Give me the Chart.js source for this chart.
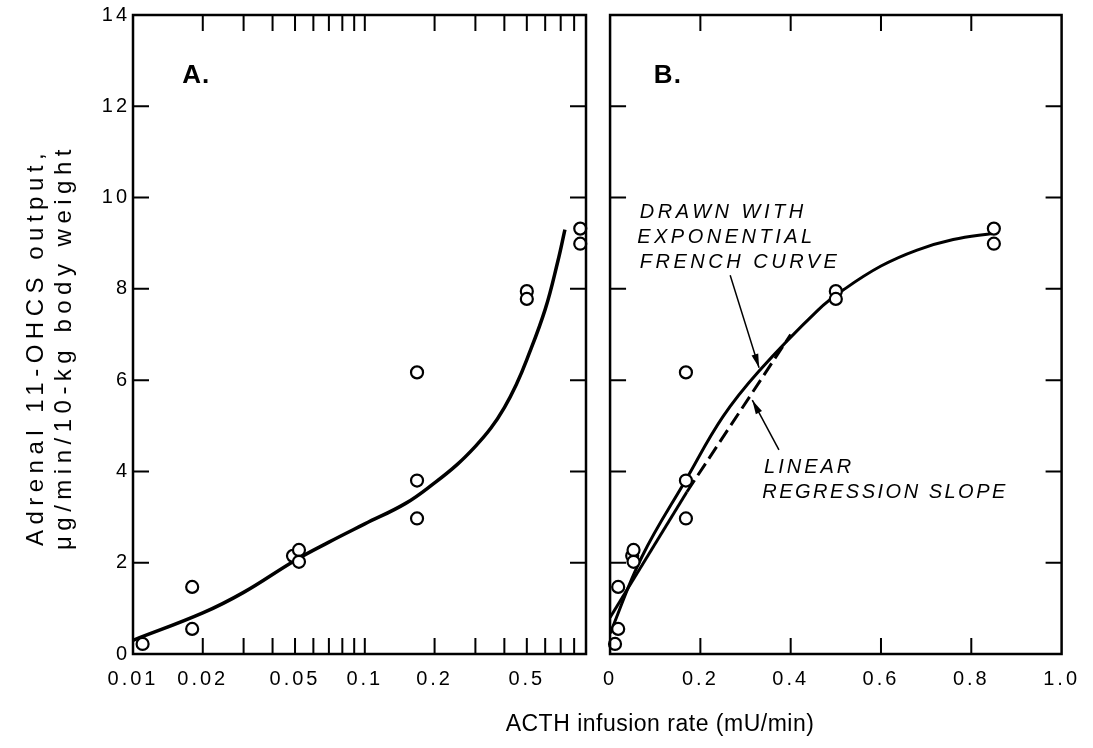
<!DOCTYPE html>
<html>
<head>
<meta charset="utf-8">
<script src="https://cdn.jsdelivr.net/npm/chart.js@4.4.1/dist/chart.umd.min.js"></script>
<style>
  html, body { margin: 0; padding: 0; background: #fff; }
  #wrap { position: relative; width: 1093px; height: 748px; overflow: hidden;
          font-family: "Liberation Sans", Arial, sans-serif; color: #000; }
  #panelA { position: absolute; left: 0; top: 0; }
  #panelB { position: absolute; left: 590px; top: 0; }
  .ytitle { position: absolute; left: 49px; top: 347px; transform: translate(-50%, -50%) rotate(-90deg);
            white-space: nowrap; text-align: center; font-size: 24px; line-height: 28px; letter-spacing: 5.5px; }
  .xtitle { position: absolute; left: 660px; top: 712px; transform: translateX(-50%);
            white-space: nowrap; font-size: 23px; line-height: 23px; letter-spacing: 0.5px; }
</style>
</head>
<body>
<div id="wrap">
  <canvas id="panelA" width="600" height="748"></canvas>
  <canvas id="panelB" width="503" height="748"></canvas>
  <div class="ytitle">Adrenal 11-OHCS output,<br>μg/min/10-kg body weight</div>
  <div class="xtitle">ACTH infusion rate (mU/min)</div>
</div>
<script>
// observed values (same animals in both panels)
const infusionRate = [0.011, 0.018, 0.018, 0.049, 0.052, 0.052, 0.168, 0.168, 0.168, 0.5, 0.5, 0.85, 0.85];
const hormoneOutput = [0.22, 1.47, 0.55, 2.15, 2.28, 2.02, 6.17, 3.8, 2.97, 7.95, 7.78, 9.32, 8.99];

// panel A: hand-drawn curve on the log axis
const curveARate = [0.01, 0.02, 0.03, 0.05, 0.07, 0.1, 0.15, 0.2, 0.25, 0.3, 0.35, 0.4, 0.45, 0.5, 0.6, 0.68, 0.73];
const curveAOutput = [0.3, 0.9, 1.35, 2.05, 2.45, 2.85, 3.3, 3.75, 4.15, 4.55, 4.95, 5.4, 5.9, 6.45, 7.55, 8.6, 9.3];

// panel B: exponential french curve and the linear regression line
const curveBRate = [0, 0.07, 0.17, 0.25, 0.33, 0.46, 0.52, 0.6, 0.68, 0.76, 0.85];
const curveBOutput = [0.45, 2.12, 3.85, 5.2, 6.2, 7.53, 8.0, 8.5, 8.85, 9.08, 9.22];
const regressionRate = [0, 0.17, 0.4];
const regressionOutput = [0.8, 3.55, 7.0];

// axis ticks
const logTicks = [0.01, 0.02, 0.03, 0.04, 0.05, 0.06, 0.07, 0.08, 0.09, 0.1, 0.2, 0.3, 0.4, 0.5, 0.6, 0.7, 0.8, 0.9];
const logLabels = [0.01, 0.02, 0.05, 0.1, 0.2, 0.5];
const linTicks = [0, 0.2, 0.4, 0.6, 0.8, 1];
const yTicks = [0, 2, 4, 6, 8, 10, 12, 14];

const pts = (xs, ys) => xs.map((x, i) => ({ x: x, y: ys[i] }));

const TICK_FONT = { family: '"Liberation Sans", Arial, sans-serif', size: 20 };

// wide tracking on the tick labels, like the original typesetting
const spacing = {
    id: 'spacing',
    beforeUpdate(chart) { chart.ctx.letterSpacing = '3px'; },
    beforeDraw(chart) { chart.ctx.letterSpacing = '3px'; }
};

// box round the plot with inward tick marks on all four sides
const frameTicks = {
    id: 'frameTicks',
    afterDatasetsDraw(chart) {
        const { ctx, chartArea: a, scales } = chart;
        const len = 16;
        ctx.save();
        ctx.strokeStyle = '#000';
        ctx.lineWidth = 2;
        ctx.beginPath();
        scales.x.ticks.forEach(t => {
            const px = scales.x.getPixelForValue(t.value);
            if (px <= a.left + 1 || px >= a.right - 1) return;
            ctx.moveTo(px, a.bottom); ctx.lineTo(px, a.bottom - len);
            ctx.moveTo(px, a.top); ctx.lineTo(px, a.top + len);
        });
        scales.y.ticks.forEach(t => {
            const py = scales.y.getPixelForValue(t.value);
            if (py <= a.top + 1 || py >= a.bottom - 1) return;
            ctx.moveTo(a.left, py); ctx.lineTo(a.left + len, py);
            ctx.moveTo(a.right, py); ctx.lineTo(a.right - len, py);
        });
        ctx.stroke();
        ctx.lineWidth = 2.5;
        ctx.strokeRect(a.left, a.top, a.right - a.left, a.bottom - a.top);
        ctx.restore();
    }
};

// text notes and arrows, placed in data units
function makeNotes(labels, arrows) {
    return {
        id: 'notes',
        afterDatasetsDraw(chart) {
            const { ctx, scales: { x, y } } = chart;
            ctx.save();
            ctx.fillStyle = '#000';
            ctx.strokeStyle = '#000';
            ctx.textAlign = 'left';
            ctx.textBaseline = 'alphabetic';
            labels.forEach(n => {
                ctx.font = n.font;
                ctx.letterSpacing = n.spacing;
                ctx.fillText(n.text, x.getPixelForValue(n.x), y.getPixelForValue(n.y));
            });
            arrows.forEach(ar => {
                const x0 = x.getPixelForValue(ar.from[0]), y0 = y.getPixelForValue(ar.from[1]);
                const x1 = x.getPixelForValue(ar.to[0]), y1 = y.getPixelForValue(ar.to[1]);
                const ang = Math.atan2(y1 - y0, x1 - x0);
                const L = 14, W = 3.5;
                ctx.lineWidth = 1.5;
                ctx.beginPath(); ctx.moveTo(x0, y0); ctx.lineTo(x1, y1); ctx.stroke();
                ctx.beginPath();
                ctx.moveTo(x1, y1);
                ctx.lineTo(x1 - L * Math.cos(ang) + W * Math.sin(ang), y1 - L * Math.sin(ang) - W * Math.cos(ang));
                ctx.lineTo(x1 - L * Math.cos(ang) - W * Math.sin(ang), y1 - L * Math.sin(ang) + W * Math.cos(ang));
                ctx.closePath();
                ctx.fill();
            });
            ctx.restore();
        }
    };
}

const pointStyle = {
    showLine: false, pointRadius: 6, pointBorderWidth: 2.2,
    pointBackgroundColor: '#fff', pointBorderColor: '#000', clip: false
};

function yScale(showLabels, width) {
    return {
        min: 0, max: 14,
        afterBuildTicks: s => { s.ticks = yTicks.map(v => ({ value: v })); },
        afterFit: s => { s.width = width; },
        grid: { display: false, drawTicks: false },
        border: { display: false },
        ticks: { display: showLabels, color: '#000', font: TICK_FONT, padding: 3 }
    };
}

const boldFont = 'bold 26px "Liberation Sans", Arial, sans-serif';
const noteFont = 'italic 20px "Liberation Sans", Arial, sans-serif';

new Chart(document.getElementById('panelA'), {
    type: 'scatter',
    data: {
        datasets: [
            { label: 'Observed', data: pts(infusionRate, hormoneOutput), ...pointStyle },
            { label: 'Curve', data: pts(curveARate, curveAOutput), showLine: true, borderColor: '#000',
              borderWidth: 3.5, pointRadius: 0, tension: 0.4 }
        ]
    },
    options: {
        responsive: false, animation: false, events: [], devicePixelRatio: 1,
        layout: { padding: { top: 15, right: 14, left: 0, bottom: 0 } },
        plugins: { legend: { display: false }, tooltip: { enabled: false } },
        scales: {
            x: {
                type: 'logarithmic', min: 0.01, max: 0.9,
                afterBuildTicks: s => { s.ticks = logTicks.map(v => ({ value: v })); },
                afterFit: s => { s.height = 94; },
                grid: { display: false, drawTicks: false },
                border: { display: false },
                ticks: {
                    color: '#000', font: TICK_FONT, padding: 13, autoSkip: false, maxRotation: 0,
                    callback: v => logLabels.includes(v) ? String(v) : ''
                }
            },
            y: yScale(true, 133)
        }
    },
    plugins: [spacing, frameTicks,
        makeNotes([{ text: 'A.', x: 0.0163, y: 12.5, font: boldFont, spacing: '1px' }], [])]
});

new Chart(document.getElementById('panelB'), {
    type: 'scatter',
    data: {
        datasets: [
            { label: 'Observed', data: pts(infusionRate, hormoneOutput), ...pointStyle },
            { label: 'French curve', data: pts(curveBRate, curveBOutput), showLine: true, borderColor: '#000',
              borderWidth: 3, pointRadius: 0, tension: 0.4 },
            { label: 'Linear regression', data: pts(regressionRate, regressionOutput), showLine: true,
              borderColor: '#000', borderWidth: 3, pointRadius: 0, tension: 0,
              segment: { borderDash: c => c.p0.parsed.x >= 0.17 ? [14, 6] : [] } }
        ]
    },
    options: {
        responsive: false, animation: false, events: [], devicePixelRatio: 1,
        layout: { padding: { top: 15, right: 23, left: 0, bottom: 0 } },
        plugins: { legend: { display: false }, tooltip: { enabled: false } },
        scales: {
            x: {
                type: 'linear', min: 0, max: 1,
                afterBuildTicks: s => { s.ticks = linTicks.map(v => ({ value: v })); },
                afterFit: s => { s.height = 94; },
                grid: { display: false, drawTicks: false },
                border: { display: false },
                ticks: {
                    color: '#000', font: TICK_FONT, padding: 13, autoSkip: false, maxRotation: 0,
                    callback: v => v === 0 ? '0' : v.toFixed(1)
                }
            },
            y: yScale(false, 17)
        }
    },
    plugins: [spacing, frameTicks,
        makeNotes([
            { text: 'B.', x: 0.097, y: 12.5, font: boldFont, spacing: '1px' },
            { text: 'DRAWN WITH', x: 0.066, y: 9.55, font: noteFont, spacing: '3.5px' },
            { text: 'EXPONENTIAL', x: 0.06, y: 9.0, font: noteFont, spacing: '3.5px' },
            { text: 'FRENCH CURVE', x: 0.066, y: 8.46, font: noteFont, spacing: '3.5px' },
            { text: 'LINEAR', x: 0.341, y: 3.97, font: noteFont, spacing: '3px' },
            { text: 'REGRESSION SLOPE', x: 0.337, y: 3.42, font: noteFont, spacing: '2.5px' }
        ], [
            { from: [0.266, 8.3], to: [0.33, 6.27] },
            { from: [0.374, 4.47], to: [0.315, 5.56] }
        ])]
});
</script>
</body>
</html>
